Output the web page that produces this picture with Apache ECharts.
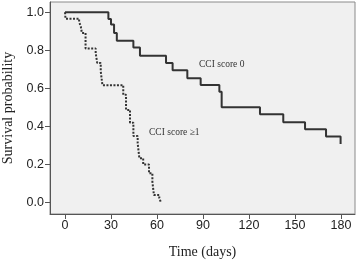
<!DOCTYPE html>
<html>
<head>
<meta charset="utf-8">
<script src="https://cdn.jsdelivr.net/npm/echarts@6/dist/echarts.min.js"></script>
<style>
  html, body { margin: 0; padding: 0; background: #fff; }
  #chart { width: 358px; height: 260px; }
</style>
</head>
<body>
<div id="chart"></div>
<script>
// Kaplan-Meier steps: [day, survival]
const cci0 = [
  [0, 1.0], [28.3, 0.965], [30, 0.936], [32, 0.891], [33.8, 0.851],
  [44.6, 0.815], [48.9, 0.772], [65.9, 0.733], [70.2, 0.695], [79.8, 0.653],
  [88.5, 0.618], [100.7, 0.583], [102.2, 0.501], [127.2, 0.464], [142.4, 0.422],
  [156.6, 0.385], [170.3, 0.347], [179.8, 0.308]
];
const cci1 = [
  [0, 1.0], [0.3, 0.966], [9.2, 0.95], [10.3, 0.925], [11, 0.891],
  [13.4, 0.81], [20, 0.786], [21, 0.734], [23.3, 0.69], [24.4, 0.617],
  [38, 0.566], [39.8, 0.487], [42.4, 0.42], [44.6, 0.35], [47.4, 0.312],
  [48.5, 0.233], [51, 0.2], [54.8, 0.154], [57, 0.11], [58, 0.04],
  [61.5, 0.025], [62.6, 0.0]
];
const xTicks = [0, 30, 60, 90, 120, 150, 180];
const yTicks = [0, 0.2, 0.4, 0.6, 0.8, 1.0];

const serif = 'Liberation Serif';
const sans = 'Liberation Sans';

const chart = echarts.init(document.getElementById('chart'), null, { renderer: 'canvas' });

chart.setOption({
  animation: false,
  backgroundColor: '#fff',
  grid: {
    left: 50, right: 3, top: 2, bottom: 46,
    outerBoundsMode: 'none',
    containLabel: false,
    show: true,
    backgroundColor: '#f0f0f0',
    borderColor: '#8a8a8a',
    borderWidth: 1
  },
  xAxis: {
    type: 'value',
    min: -9.8,
    max: 189.2,
    name: 'Time (days)',
    nameLocation: 'middle',
    nameGap: 31,
    nameTextStyle: { fontFamily: serif, fontSize: 14, color: '#222' },
    splitLine: { show: false },
    axisLine: { onZero: false, lineStyle: { color: '#555', width: 1 } },
    axisTick: { customValues: xTicks, length: 5, lineStyle: { color: '#555' } },
    axisLabel: {
      customValues: xTicks,
      fontFamily: sans, fontSize: 12.5, color: '#222', margin: 5
    }
  },
  yAxis: {
    type: 'value',
    min: -0.06,
    max: 1.054,
    name: 'Survival probability',
    nameLocation: 'middle',
    nameRotate: 90,
    nameGap: 35,
    nameTextStyle: { fontFamily: serif, fontSize: 14, color: '#222' },
    splitLine: { show: false },
    axisLine: { show: true, onZero: false, lineStyle: { color: '#555', width: 1 } },
    axisTick: { show: true, customValues: yTicks, length: 5, lineStyle: { color: '#555' } },
    axisLabel: {
      customValues: yTicks,
      fontFamily: sans, fontSize: 12.5, color: '#222', margin: 6,
      formatter: v => v.toFixed(1)
    }
  },
  graphic: [
    {
      type: 'text', left: 199, top: 59,
      style: { text: 'CCI score 0', font: '9.5px "Liberation Serif"', fill: '#333' }
    },
    {
      type: 'text', left: 149, top: 127,
      style: { text: 'CCI score \u22651', font: '9.5px "Liberation Serif"', fill: '#333' }
    }
  ],
  series: [
    {
      name: 'CCI score 0',
      type: 'line',
      step: 'end',
      data: cci0,
      symbol: 'none',
      lineStyle: { color: '#333', width: 2 }
    },
    {
      name: 'CCI score ≥1',
      type: 'line',
      step: 'end',
      data: cci1,
      symbol: 'none',
      lineStyle: { color: '#333', width: 2, type: [2, 1.5] }
    }
  ]
});
</script>
</body>
</html>
